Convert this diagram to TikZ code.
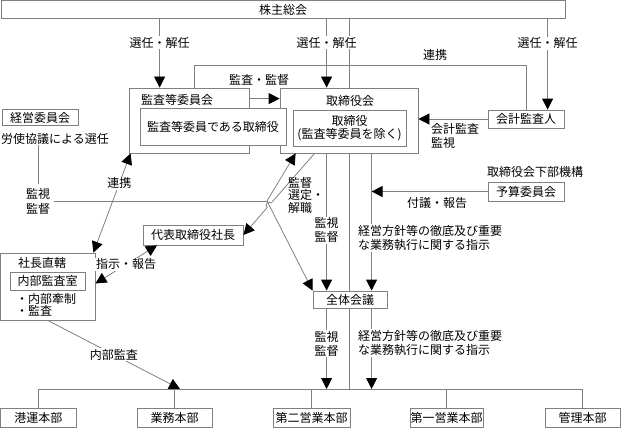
\documentclass[tikz,border=0pt]{standalone}
\usepackage{fontspec}
\setmainfont{Noto Sans CJK JP}
\usetikzlibrary{arrows.meta, calc}
\definecolor{linegray}{HTML}{808080}

\tikzset{
  ln/.style={draw=linegray, line width=0.8pt},
  arr/.style={ln, -{Triangle[length=11pt,width=11pt,color=black]}},
  darr/.style={ln, {Triangle[length=11pt,width=11pt,color=black]}-{Triangle[length=11pt,width=11pt,color=black]}},
  box/.style={draw=linegray, line width=0.8pt, fill=white, inner sep=0pt, align=center},
  lab/.style={fill=white, inner sep=1pt, align=center},
}

\begin{document}
\begin{tikzpicture}[x=1pt, y=-1pt, font=\fontsize{12}{14}\selectfont]
\useasboundingbox (0,0) rectangle (621,428);

% boxes
\node[box, minimum width=564pt, minimum height=18pt] (share) at (283,9.5) {株主総会};
\node[box, minimum width=120pt, minimum height=65pt] (kansa) at (189,120.5) {};
\node[anchor=west, inner sep=0pt] at (141,100) {監査等委員会};
\node[box, minimum width=138pt, minimum height=65pt] (board) at (349,120.5) {};
\node[inner sep=0pt] at (350,101) {取締役会};
\node[box, minimum width=146pt, minimum height=37pt] (kansaIn) at (213,126.5) {監査等委員である取締役};
\node[box, minimum width=113pt, minimum height=36pt, font=\fontsize{12}{13}\selectfont] (boardIn) at (349.5,128) {取締役\\(監査等委員を除く)};
\node[box, minimum width=76pt, minimum height=18pt] (auditor) at (526,119) {会計監査人};
\node[box, minimum width=76pt, minimum height=16pt] (keiei) at (40,117.5) {経営委員会};
\node[anchor=west, inner sep=0pt] (roshi) at (1,139) {労使協議による選任};
\node (kabu) at (535,172) {取締役会下部機構};
\node[box, minimum width=76pt, minimum height=19pt] (yosan) at (526,191.5) {予算委員会};
\node[box, minimum width=100pt, minimum height=20pt] (daihyo) at (193,235) {代表取締役社長};
\node[box, minimum width=94.5pt, minimum height=67pt] (shacho) at (47.75,286.5) {};
\node at (42,263) {社長直轄};
\node[box, minimum width=75pt, minimum height=18pt] (naibu) at (47.5,281) {内部監査室};
\node[anchor=west, align=left, inner sep=0pt, font=\fontsize{12}{12.5}\selectfont] at (16,305) {・内部牽制\\・監査};
\node[box, minimum width=74pt, minimum height=17pt] (zentai) at (350,299.5) {全体会議};
\node[box, minimum width=75.5pt, minimum height=19pt] (kouun) at (38.25,417.5) {港運本部};
\node[box, minimum width=75pt, minimum height=19pt] (gyomu) at (174.5,417.5) {業務本部};
\node[box, minimum width=77pt, minimum height=19pt] (dai2) at (311.5,417.5) {第二営業本部};
\node[box, minimum width=73pt, minimum height=19pt] (dai1) at (446.5,417.5) {第一営業本部};
\node[box, minimum width=75pt, minimum height=19pt] (kanri) at (582.5,417.5) {管理本部};

% points
\coordinate (s1) at ([xshift=31pt]kansa.north west);
\coordinate (s2) at ([xshift=47pt]board.north west);
\coordinate (s3) at ([xshift=92pt]board.north west);
\coordinate (s4) at ([xshift=60pt]auditor.north west);
\coordinate (r1) at ([xshift=66pt]kansa.north west);
\coordinate (r2) at ([xshift=39pt]auditor.north west);
\coordinate (rtop) at (0,65);
\coordinate (jn) at (267,201);
\coordinate (h1) at (271.2,203);
\coordinate (h2) at (267.2,207.5);
\coordinate (barL) at (38,389);
\coordinate (barR) at (583,389);
\coordinate (naibuEnd) at (180,389);

% straight line through board and zentai
\draw[ln] (board.north |- share.south) -- (board.north);
\draw[ln] (board.south) -- (board.south |- zentai.north);
\draw[ln] (board.south |- zentai.south) -- (board.south |- barL);

% from shareholders
\draw[arr] (s1 |- share.south) -- node[lab, pos=0.35]{選任・解任} (s1);
\draw[arr] (s2 |- share.south) -- node[lab, pos=0.35]{選任・解任} (s2);
\draw[arr] (s4 |- share.south) -- node[lab, pos=0.27]{選任・解任} (s4);

% audit committee -- auditor
\draw[ln] (r1) -- (r1 |- rtop) -| (r2);
\node at (435,55) {連携};
\draw[arr] ([yshift=-11pt]kansa.north east) -- ([yshift=-11pt]board.north west);
\node at (259,80) {監査・監督};
\draw[arr] (auditor.west) -- (auditor.west -| board.east);
\node[anchor=west, align=left, inner sep=0pt] at (431,135.5) {会計監査\\監視};
\draw[arr] (yosan.west) -- (yosan.west -| s3);
\node at (437,203) {付議・報告};

% board -> zentai -> divisions
\draw[arr] (s2 |- board.south) -- node[lab, pos=0.56]{監視\\監督} (s2 |- zentai.north);
\draw[arr] (s3 |- board.south) -- (s3 |- zentai.north);
\node[lab, anchor=west, align=left] at (357,238) {経営方針等の徹底及び重要\\な業務執行に関する指示};
\draw[arr] (s2 |- zentai.south) -- node[lab, pos=0.44]{監視\\監督} (s2 |- barL);
\draw[arr] (s3 |- zentai.south) -- (s3 |- barL);
\node[lab, anchor=west, align=left] at (357,343) {経営方針等の徹底及び重要\\な業務執行に関する指示};
\draw[ln] (barL) -- (barR);
\foreach \d in {kouun,gyomu,dai2,dai1,kanri}
  \draw[ln] (\d.north |- barL) -- (\d.north);

% management committee
\node[align=center, font=\fontsize{12}{15}\selectfont] (kanshiL) at (38,201) {監視\\監督};
\draw[ln] (kanshiL.north |- roshi.south) -- (kanshiL.north);
\draw[ln] (kanshiL.east) -- (jn);
\draw[arr] (jn) -- ([xshift=16pt]board.south west);
\draw[arr] (jn) -- (zentai.north west);
\draw[arr] ([xshift=35pt]board.south west) -- (h1) .. controls +(-3,-2.6) and +(-3,-2.6) .. (h2) -- (daihyo.east);
\node[anchor=west, align=left, inner sep=0pt, font=\fontsize{12}{12.5}\selectfont] at (288,195) {監督\\選定・\\解職};

% president and internal audit
\draw[darr] ([xshift=2pt]kansa.south west) -- node[lab, pos=0.3]{連携} ([xshift=-2pt]shacho.north east);
\draw[darr] ([xshift=-36pt]daihyo.south) -- node[lab]{指示・報告} ([yshift=3pt]shacho.east);
\draw[arr] (shacho.south) -- node[lab]{内部監査} (naibuEnd);

\end{tikzpicture}
\end{document}
